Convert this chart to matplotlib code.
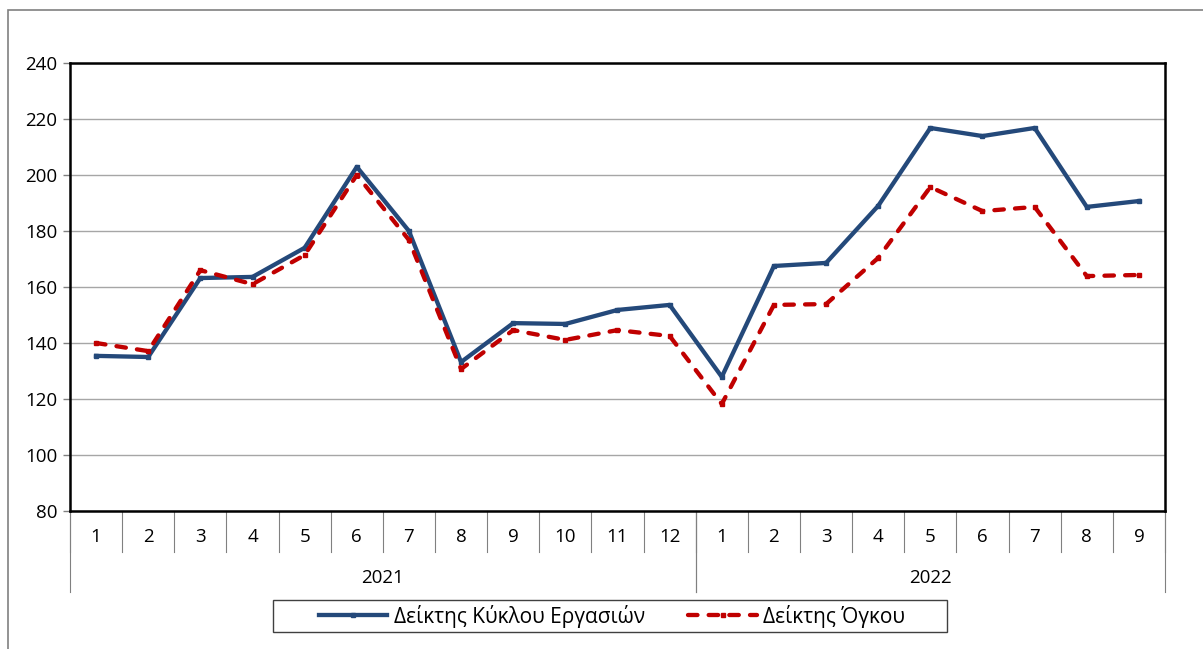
import matplotlib
matplotlib.use("Agg")
import matplotlib.pyplot as plt
import matplotlib.transforms as mtransforms
from matplotlib.patches import Rectangle

# dati
mesi = [1, 2, 3, 4, 5, 6, 7, 8, 9, 10, 11, 12, 1, 2, 3, 4, 5, 6, 7, 8, 9]
anni = ["2021", "2022"]
mesi_per_anno = [12, 9]

kyklos = [135.4, 135.0, 163.2, 163.6, 174.0, 202.9, 180.0, 133.2, 147.1, 146.8,
          151.8, 153.6, 127.9, 167.5, 168.6, 189.0, 216.8, 213.9, 216.8, 188.6, 190.7]
ogkos = [140.0, 137.1, 166.0, 161.0, 171.4, 200.0, 176.8, 130.7, 144.6, 141.1,
         144.6, 142.5, 118.2, 153.6, 153.9, 170.4, 195.7, 187.1, 188.6, 163.9, 164.3]

nomi = ["Δείκτης Κύκλου Εργασιών", "Δείκτης Όγκου"]

plt.rcParams['font.family'] = ['Open Sans', 'DejaVu Sans']
FS = 13.5

fig = plt.figure(figsize=(12.03, 6.49), dpi=100)
ax = fig.add_axes([70 / 1203, 1 - 511 / 649, (1165 - 70) / 1203, (511 - 63) / 649])

x = list(range(len(mesi)))
ax.plot(x, kyklos, color='#24497a', lw=3.1, marker='s', ms=3.5, label=nomi[0], zorder=3)
ax.plot(x, ogkos, color='#c00000', lw=3.1, ls=(0, (2.2, 2.6)), dash_capstyle='round',
        marker='s', ms=3.5, label=nomi[1], zorder=3)

ax.set_xlim(-0.5, len(mesi) - 0.5)
ax.set_ylim(80, 240)
ax.set_yticks(range(80, 241, 20))
ax.tick_params(axis='y', labelsize=FS, length=5, width=1, color='#808080', pad=4)
ax.set_xticks([])
ax.grid(axis='y', color='#a6a6a6', lw=1)
ax.set_axisbelow(True)
for s in ax.spines.values():
    s.set_linewidth(1.8)
    s.set_color('black')

# asse x a due livelli (mese / anno)
tr = mtransforms.blended_transform_factory(ax.transData, ax.transAxes)
h = 1 / 448
riga1 = -41 * h
riga2 = -81 * h
for i, m in enumerate(mesi):
    ax.text(i, -26 * h, str(m), transform=tr, ha='center', va='center', fontsize=FS)
for i in range(len(mesi) + 1):
    ax.plot([i - 0.5, i - 0.5], [0, riga1], transform=tr, color='#808080', lw=0.8,
            clip_on=False)
inizio = 0
for anno, n in zip(anni, mesi_per_anno):
    ax.text(inizio + n / 2 - 0.5, -67 * h, anno, transform=tr, ha='center', va='center',
            fontsize=FS)
    for b in (inizio - 0.5, inizio + n - 0.5):
        ax.plot([b, b], [0, riga2], transform=tr, color='#808080', lw=0.8, clip_on=False)
    inizio += n

# legenda senza cornice + cornice disegnata a mano
leg = fig.legend(loc='center', bbox_to_anchor=(612 / 1203, 1 - 616 / 649), ncol=2,
                 fontsize=15, frameon=False, handlelength=3.3, handletextpad=0.3,
                 columnspacing=2.1, borderpad=0.2)
fig.patches.append(Rectangle((273 / 1203, 1 - 632 / 649), (947 - 273) / 1203, 32 / 649,
                             transform=fig.transFigure, fill=False,
                             edgecolor='#404040', lw=1.0))

# cornice esterna
fig.patches.append(Rectangle((8 / 1203, -0.1), 1.2, 1 - 10 / 649 + 0.1,
                             transform=fig.transFigure, fill=False,
                             edgecolor='#808080', lw=1.2))

fig.savefig("out.png", dpi=100)
